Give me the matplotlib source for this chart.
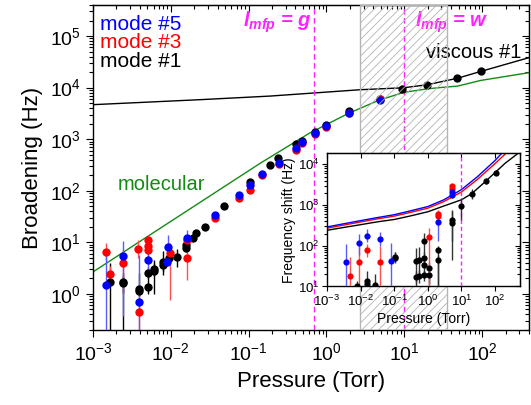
import matplotlib
matplotlib.use('Agg')
import matplotlib.pyplot as plt
from matplotlib.ticker import NullFormatter, LogLocator

plt.rcParams['font.family'] = 'Liberation Sans'
plt.rcParams['mathtext.fontset'] = 'custom'
plt.rcParams['mathtext.rm'] = 'Liberation Sans'
plt.rcParams['mathtext.it'] = 'Liberation Sans:italic:bold'
plt.rcParams['mathtext.bf'] = 'Liberation Sans:bold'
plt.rcParams['hatch.linewidth'] = 0.6

# ---- main panel: broadening vs pressure ----
# mode #5 (blue)
m5_p  = [1.48e-3, 2.43e-3, 3.87e-3, 5.1e-3, 9.2e-3, 9.0e-3, 1.6e-2, 3.7e-2, 7.6e-2, 0.105, 0.148, 0.243, 0.406, 0.485, 0.72, 1.0, 1.93, 4.84]
m5_b  = [1.5, 5.5, 0.7, 4.5, 8.2, 4.2, 12, 34, 82, 128, 216, 346, 690, 880, 1320, 1780, 3270, 5650]
m5_lo = [0.01, 0.38, 0.01, 2.3, 4.5, 3.5, 7.5, 29, 72, 115, 195, 315, 630, 800, 1200, 1620, 3000, 5200]
m5_hi = [7.1, 10.7, 5.7, 9.6, 13.8, 5.0, 17, 39, 92, 142, 238, 380, 750, 960, 1440, 1950, 3550, 6100]

# mode #3 (red)
m3_p  = [1.48e-3, 1.67e-3, 2.43e-3, 3.8e-3, 3.87e-3, 5.1e-3, 5.1e-3, 5.1e-3, 9.7e-3, 1.6e-2, 1.6e-2, 3.7e-2, 7.6e-2, 0.105, 0.148, 0.243, 0.406, 0.485, 0.72, 1.0, 1.93, 4.84]
m3_b  = [6.4, 2.4, 4.0, 7.6, 0.45, 11, 8.6, 7.0, 6.1, 11, 4.9, 30, 71, 103, 205, 330, 630, 850, 1250, 1750, 3200, 5900]
m3_lo = [4.3, 1.6, 1.03, 5.0, 0.01, 8.0, 6.0, 4.5, 0.77, 8.5, 1.87, 26, 62, 92, 185, 300, 570, 770, 1130, 1580, 2900, 5400]
m3_hi = [9.6, 3.5, 7.0, 11, 1.0, 14, 11, 9.5, 9.7, 14, 8.0, 35, 81, 115, 228, 362, 700, 940, 1380, 1930, 3500, 6400]

# mode #1 (black)
m1_p  = [1.67e-3, 2.43e-3, 2.43e-3, 3.87e-3, 3.87e-3, 5.1e-3, 5.1e-3, 6.0e-3, 6.0e-3, 7.9e-3, 7.9e-3, 9.5e-3, 1.2e-2, 1.58e-2, 1.58e-2, 1.93e-2, 2.1e-2, 2.74e-2, 4.85e-2, 0.105, 0.186, 0.238, 0.406, 0.485, 0.72, 1.0, 1.93, 4.84, 9.4, 19.3, 47, 96]
m1_b  = [1.73, 1.73, 1.6, 1.25, 1.13, 1.38, 2.6, 3.1, 2.8, 4.2, 3.6, 4.9, 5.3, 8.9, 7.7, 11.9, 14.9, 20, 51, 145, 320, 440, 800, 930, 1400, 1850, 3500, 6000, 9230, 11000, 15300, 20600]
m1_lo = [0.01, 0.01, 1.03, 0.95, 0.9, 1.0, 2.0, 1.0, 2.2, 2.3, 2.8, 3.8, 3.4, 7.0, 6.5, 10.5, 13.5, 18.5, 47, 135, 300, 410, 750, 870, 1320, 1740, 3300, 5600, 8500, 10200, 14300, 19400]
m1_hi = [3.9, 2.5, 2.2, 2.5, 1.4, 2.7, 3.4, 3.9, 4.5, 6.7, 4.6, 6.3, 7.4, 10.8, 9, 13.4, 16.4, 21.5, 55, 156, 342, 472, 855, 995, 1490, 1970, 3720, 6400, 10000, 11800, 16400, 21900]

# model curves
visc_p = [1e-3, 0.024, 0.19, 2.7, 9.8, 20, 49, 96, 420]
visc_b = [4670, 5840, 6860, 9100, 9930, 11400, 15300, 20600, 38900]
mol_p = [1e-3, 0.141, 0.6, 1.91, 4.66, 9.77, 20, 33, 48.4, 95.5, 417]
mol_b = [2.67, 342, 1300, 3160, 5650, 8070, 9500, 10200, 10700, 13770, 19680]

# ---- inset: frequency shift vs pressure ----
i5_p  = [3.7e-3, 9.1e-3, 1.57e-2, 3.74e-2, 7.8e-2, 2.0, 5.1, 5.1]
i5_f  = [39, 114, 176, 145, 42, 390, 2150, 1800]
i5_lo = [1, 60, 125, 100, 1, 130, 1750, 1500]
i5_hi = [108, 190, 260, 220, 115, 560, 2500, 2150]

i3_p  = [4.8e-3, 9.1e-3, 1.57e-2, 3.74e-2, 1.06, 2.0, 2.0, 5.1, 5.1]
i3_f  = [18.3, 40, 78, 39, 160, 620, 540, 2960, 2550]
i3_lo = [1, 1, 52, 1, 1, 330, 300, 2450, 2150]
i3_hi = [54, 94, 113, 100, 270, 760, 690, 3350, 3050]

i1_p  = [7.9e-3, 1.57e-2, 1.57e-2, 2.65e-2, 0.104, 0.104, 0.43, 0.43, 0.55, 0.55, 0.755, 0.755, 0.755, 0.755, 1.06, 1.06, 2.0, 2.0, 5.1, 5.1, 10, 20.5, 52, 103]
i1_f  = [10, 13.5, 11.5, 10.8, 49, 54, 42, 17.5, 44, 18, 130, 51, 33, 19.7, 28, 19, 44, 77, 370, 420, 960, 1870, 3870, 6300]
i1_lo = [1, 9, 8, 8, 37, 42, 1, 12, 20, 12, 60, 30, 20, 14, 1, 12, 1, 1, 44, 130, 430, 1400, 3300, 5500]
i1_hi = [14, 24, 15, 20, 71, 72, 89, 24, 95, 25, 210, 70, 45, 26, 40, 26, 60, 100, 750, 700, 1500, 2500, 4500, 7200]

ic5_p = [1e-3, 3e-3, 1e-2, 3e-2, 0.1, 0.3, 1, 3, 10, 30, 100, 170]
ic5_f = [290, 345, 415, 490, 580, 720, 920, 1350, 2400, 5000, 12500, 20000]
ic3_p = [1e-3, 3e-3, 1e-2, 3e-2, 0.1, 0.3, 1, 3, 10, 30, 100, 230]
ic3_f = [270, 320, 385, 455, 535, 660, 840, 1220, 2100, 4300, 10500, 20000]
ic1_p = [1e-3, 3e-3, 1e-2, 3e-2, 0.1, 0.3, 1, 3, 10, 20, 50, 100, 200, 560]
ic1_f = [240, 280, 330, 385, 443, 540, 685, 950, 1350, 1900, 3700, 6300, 10700, 20500]

BLUE = '#0000ff'
RED = '#ff0000'
GREEN = '#138a13'
MAGENTA = '#ff22ff'


def draw_mode(a, p, v, lo, hi, color, ecolor, ms, cap):
    yerr = [[vi - l for vi, l in zip(v, lo)], [h - vi for vi, h in zip(v, hi)]]
    a.errorbar(p, v, yerr=yerr, fmt='o', color=color, ecolor=ecolor, ms=ms,
               mec=color, mew=0, elinewidth=1, capsize=cap, capthick=1, zorder=4)


def style_axes(a, labelsize, major, minor, pad):
    a.xaxis.set_major_locator(LogLocator(base=10, numticks=20))
    a.yaxis.set_major_locator(LogLocator(base=10, numticks=20))
    a.tick_params(which='both', direction='out', top=False, right=False,
                  labelsize=labelsize, width=0.8, pad=pad)
    a.tick_params(which='major', length=major)
    a.tick_params(which='minor', length=minor)
    for s in a.spines.values():
        s.set_linewidth(1.0)
    sx = a.secondary_xaxis('top')
    sy = a.secondary_yaxis('right')
    for sec, axis in ((sx, sx.xaxis), (sy, sy.yaxis)):
        sec.tick_params(which='both', direction='in', width=0.8)
        sec.tick_params(which='major', length=major)
        sec.tick_params(which='minor', length=minor)
        axis.set_major_locator(LogLocator(base=10, numticks=20))
        axis.set_major_formatter(NullFormatter())
        axis.set_minor_formatter(NullFormatter())


fig = plt.figure(figsize=(5.31, 4.05), dpi=100)
ax = fig.add_axes([0.1751, 0.1852, 0.8211, 0.8025])
ax.set_xscale('log')
ax.set_yscale('log')
ax.set_xlim(1e-3, 400)
ax.set_ylim(0.2, 4e5)

ax.plot(visc_p, visc_b, color='k', lw=1, zorder=2)
ax.plot(mol_p, mol_b, color=GREEN, lw=1, zorder=2)
ax.axvline(0.7, color=MAGENTA, ls=(0, (4, 2.5)), lw=1, zorder=3)
ax.axvline(10, color=MAGENTA, ls=(0, (4, 2.5)), lw=1, zorder=3)

draw_mode(ax, m1_p, m1_b, m1_lo, m1_hi, 'k', 'k', 6, 3)
draw_mode(ax, m3_p, m3_b, m3_lo, m3_hi, RED, '#ff5050', 6, 3)
draw_mode(ax, m5_p, m5_b, m5_lo, m5_hi, BLUE, '#5a5aff', 6, 3)

ax.axvspan(2.7, 35, facecolor='none', edgecolor='#b4b4b4', hatch='////', lw=1, zorder=6)

ax.set_xlabel('Pressure (Torr)', fontsize=16, labelpad=5)
ax.set_ylabel('Broadening (Hz)', fontsize=16, labelpad=5)
style_axes(ax, 14, 5, 3, 3.5)

tr = ax.get_xaxis_transform()
ax.text(0.016, 0.923, 'mode #5', color=BLUE, fontsize=15, transform=ax.transAxes, va='baseline')
ax.text(0.016, 0.867, 'mode #3', color=RED, fontsize=15, transform=ax.transAxes, va='baseline')
ax.text(0.016, 0.810, 'mode #1', color='k', fontsize=15, transform=ax.transAxes, va='baseline')
ax.text(2.1e-3, 0.431, 'molecular', color=GREEN, fontsize=14.5, transform=tr, va='baseline')
ax.text(18.8, 0.837, 'viscous #1', color='k', fontsize=14.5, transform=tr, va='baseline')
ax.text(0.085, 0.932, r'$l_{mfp}$ = $g$', color=MAGENTA, fontsize=14.5, fontweight='bold',
        fontstyle='italic', transform=tr, va='baseline')
ax.text(13.9, 0.932, r'$l_{mfp}$ = $w$', color=MAGENTA, fontsize=14.5, fontweight='bold',
        fontstyle='italic', transform=tr, va='baseline')

# inset
ins = fig.add_axes([0.6158, 0.2926, 0.3635, 0.3296])
ins.set_facecolor('white')
ins.set_xscale('log')
ins.set_yscale('log')
ins.set_xlim(1e-3, 550)
ins.set_ylim(10, 1.9e4)

ins.plot(ic1_p, ic1_f, color='k', lw=1, zorder=2)
ins.plot(ic3_p, ic3_f, color=RED, lw=1, zorder=2)
ins.plot(ic5_p, ic5_f, color=BLUE, lw=1, zorder=2)
ins.axvline(10, color=MAGENTA, ls=(0, (3, 2)), lw=1, zorder=3)

draw_mode(ins, i1_p, i1_f, i1_lo, i1_hi, 'k', '#333333', 4.5, 2)
draw_mode(ins, i3_p, i3_f, i3_lo, i3_hi, RED, '#ff5050', 4.5, 2)
draw_mode(ins, i5_p, i5_f, i5_lo, i5_hi, BLUE, '#5a5aff', 4.5, 2)

ins.set_xlabel('Pressure (Torr)', fontsize=10, labelpad=2)
ins.set_ylabel('Frequency shift (Hz)', fontsize=10, labelpad=1)
style_axes(ins, 9.5, 3.5, 2, 2)

fig.savefig('out.png', dpi=100)
